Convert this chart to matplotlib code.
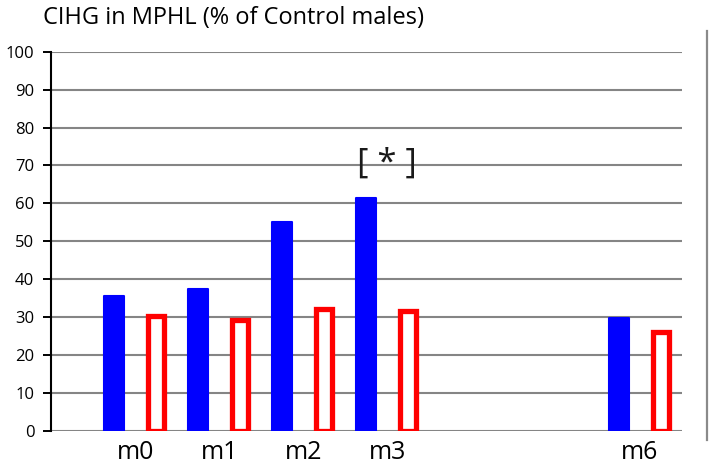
import numpy as np
import matplotlib.pyplot as plt
from matplotlib.lines import Line2D

plt.rcParams['font.family'] = ['Open Sans', 'DejaVu Sans']

# Data
months = ['m0', 'm1', 'm2', 'm3', 'm6']
blue_vals = [35.5, 37.5, 55.0, 61.5, 29.7]
red_vals = [30.2, 29.3, 32.2, 31.6, 26.0]
y_ticks = [0, 10, 20, 30, 40, 50, 60, 70, 80, 90, 100]
title = "CIHG in MPHL (% of Control males)"
star_label = "[ * ]"
star_month = 'm3'
star_y = 70.5

x = np.array([int(m[1:]) for m in months])

fig = plt.figure(figsize=(7.09, 4.68), dpi=100)
ax = fig.add_axes([51 / 709, 37.3 / 468, 630.7 / 709, 379 / 468])

# Gridlines
for t in y_ticks:
    ax.axhline(t, color='#858585', linewidth=1.5, zorder=0)

# Blue solid bars (thin same-colour edge gives the soft corners)
ax.bar(x - 0.25, blue_vals, width=0.235, color='#0000ff', edgecolor='#0000ff',
       linewidth=1.5, joinstyle='round', zorder=2)
# Red outlined bars
ax.bar(x + 0.25, red_vals, width=0.19, color='white', edgecolor='#ff0000',
       linewidth=3.8, zorder=2)

ax.text(int(star_month[1:]), star_y, star_label, ha='center', va='center',
        fontsize=25, color='#1a1a1a')

ax.set_xlim(-1, 6.5)
ax.set_ylim(0, 100)
ax.set_yticks(y_ticks)
ax.set_xticks(x)
ax.set_xticklabels(months, fontsize=18)
ax.tick_params(axis='x', length=0, pad=7)
ax.tick_params(axis='y', length=6, width=1.4, direction='out', labelsize=12, pad=6)

for s in ['top', 'right', 'bottom']:
    ax.spines[s].set_visible(False)
ax.spines['left'].set_linewidth(1.5)
ax.spines['left'].set_color('black')

fig.text(43 / 709, 1 - 24.5 / 468, title, fontsize=17, va='baseline', ha='left')

# Right-hand vertical rule
fig.add_artist(Line2D([707.3 / 709, 707.3 / 709], [1 - 31 / 468, 1 - 440 / 468],
                      color='#8a8a8a', linewidth=1.6, transform=fig.transFigure))

fig.savefig('out.png', dpi=100)
